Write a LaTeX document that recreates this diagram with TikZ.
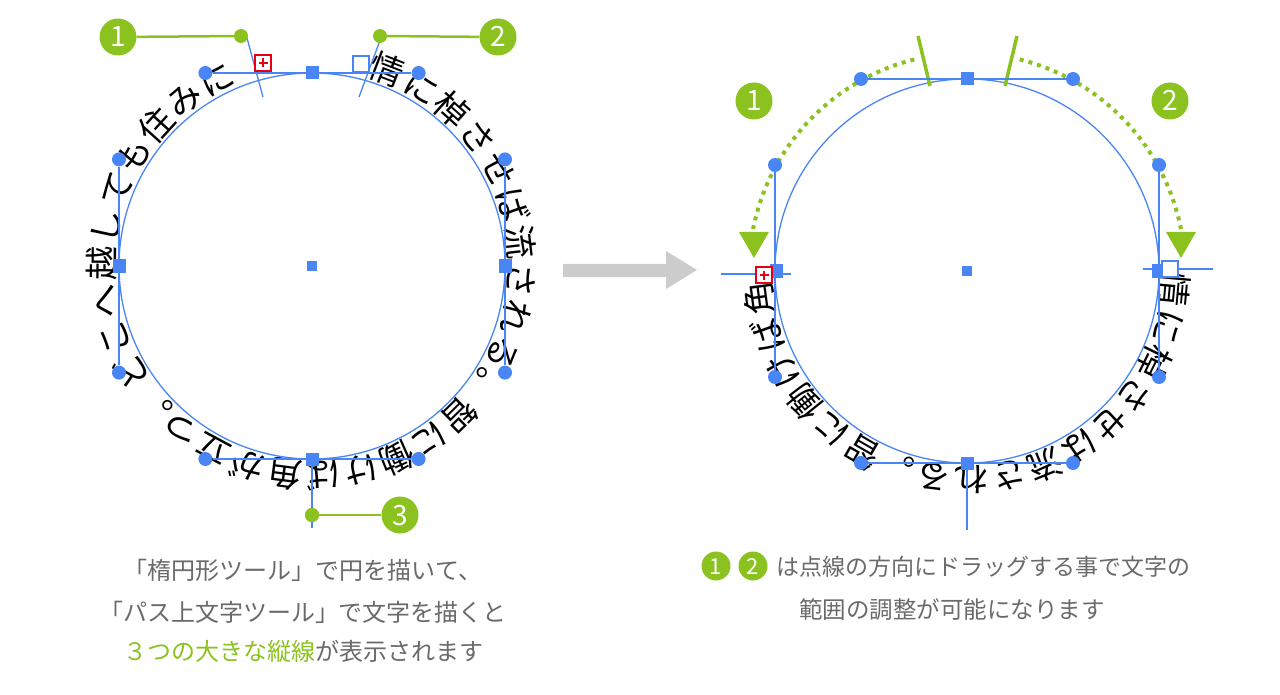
\documentclass[tikz,border=0pt]{standalone}
\usepackage{fontspec}
\setmainfont{Noto Sans CJK JP}
\usetikzlibrary{calc}
\definecolor{grn}{HTML}{8CC220}
\definecolor{blu}{HTML}{4A85F6}
\definecolor{txtgray}{HTML}{6A6A6A}
\definecolor{redm}{HTML}{E60012}
\definecolor{arrgray}{HTML}{CCCCCC}
\begin{document}
\begin{tikzpicture}[x=1pt,y=-1pt,
  circpath/.style={draw=blu,line width=1.3pt},
  handle/.style={draw=blu,line width=1.8pt},
  markline/.style={draw=blu,line width=1.3pt},
  hdot/.style={circle,fill=blu,inner sep=0pt,minimum size=14pt},
  anch/.style={rectangle,fill=blu,inner sep=0pt,minimum size=13pt},
  ctr/.style={rectangle,fill=blu,inner sep=0pt,minimum size=10pt},
  gdot/.style={circle,fill=grn,inner sep=0pt,minimum size=14pt},
  gnum/.style={circle,fill=grn,inner sep=0pt,minimum size=37pt,text=white,
    font=\fontsize{28}{28}\selectfont,text height=20pt,text depth=0pt},
  gnums/.style={circle,fill=grn,inner sep=0pt,minimum size=29pt,text=white,
    font=\fontsize{22}{22}\selectfont,text height=16pt,text depth=0pt},
  gline/.style={draw=grn,line width=2.5pt},
  gtick/.style={draw=grn,line width=3.5pt},
  gdots/.style={draw=grn,line width=4pt,dash pattern=on 4pt off 5pt},
  onchar/.style={inner sep=0pt,anchor=base,font=\fontsize{34}{34}\selectfont},
  redbox/.style={rectangle,draw=redm,fill=white,line width=1.8pt,minimum size=16pt,inner sep=0pt},
  openbox/.style={rectangle,draw=blu,fill=white,line width=1.6pt,minimum size=16pt,inner sep=0pt},
  btxt/.style={inner sep=0pt,anchor=base,text=txtgray,font=\fontsize{24}{24}\selectfont},
]
\useasboundingbox (0,0) rectangle (1280,695);

% ---------- gray arrow ----------
\fill[arrgray] (563,264) -- (666,264) -- (666,251) -- (697,270) -- (666,289) -- (666,277) -- (563,277) -- cycle;

% ================= LEFT CIRCLE =================
\coordinate (Lc) at (312,266);
\foreach \ch [count=\i from 0] in {情,に,棹,さ,せ,ば,流,さ,れ,る,。,智,に,働,け,ば,角,が,立,つ,。,ど,こ,へ,越,し,て,も,住,み,に}{
  \pgfmathsetmacro\a{69-10.4*\i}
  \node[onchar,rotate=\a-90] (L\i) at ({312+197*cos(\a)},{266-197*sin(\a)}) {\ch};
}
\draw[circpath] (Lc) circle[radius=193];

% handles
\node[hdot] (Lt1) at (205.4,73) {};
\node[hdot] (Lt2) at (418.6,73) {};
\node[hdot] (Lb1) at (205.4,459) {};
\node[hdot] (Lb2) at (418.6,459) {};
\node[hdot] (Ll1) at (119,159.4) {};
\node[hdot] (Ll2) at (119,372.6) {};
\node[hdot] (Lr1) at (505,159.4) {};
\node[hdot] (Lr2) at (505,372.6) {};
\draw[handle] (Lt1) -- (Lt2);
\draw[handle] (Lb1) -- (Lb2);
\draw[handle] (Ll1) -- (Ll2);
\draw[handle] (Lr1) -- (Lr2);

% bracket 3
\node[gdot] (g3) at (312,515) {};
\node[gnum] (n3) at (400,515) {3};
\coordinate (b3) at (312,528);
\draw[markline] (312,459) -- (b3);
\draw[gline] (g3) -- (n3);
\node[gdot] at (g3) {};

\node[anch] (LT) at (312,73) {};
\node[anch] (LB) at (312,459) {};
\node[anch] (LL) at (119,266) {};
\node[anch] (LR) at (505,266) {};
\node[ctr] (LC) at (Lc) {};

% bracket 1 (end) and 2 (start)
\coordinate (e1) at (263,97);
\coordinate (e1t) at (247,38);
\coordinate (s2) at (359,97);
\coordinate (s2t) at (382,35);
\draw[markline] (e1) -- (e1t);
\draw[markline] (s2) -- (s2t);
\node[gdot] (g1) at (241,36) {};
\node[gdot] (g2) at (380,36) {};
\node[gnum] (n1) at (118,37) {1};
\node[gnum] (n2) at (498,37) {2};
\draw[gline] (n1) -- (g1);
\draw[gline] (g2) -- (n2);
\node[redbox] (rb1) at (263,63) {};
\draw[redm,line width=1.8pt] ($(rb1)+(-4.5,0)$) -- ($(rb1)+(4.5,0)$) ($(rb1)+(0,-4.5)$) -- ($(rb1)+(0,4.5)$);
\node[openbox] (ob1) at (361,64) {};

% ================= RIGHT CIRCLE =================
\coordinate (Rc) at (967,271);
\foreach \ch [count=\i from 0] in {情,に,棹,さ,せ,ば,流,さ,れ,る,。,智,に,働,け,ば,角}{
  \pgfmathsetmacro\a{-5.2-10.45*\i}
  \node[onchar,rotate=\a-90] (R\i) at ({967+196*cos(\a)},{271-196*sin(\a)}) {\ch};
}
\draw[circpath] (Rc) circle[radius=192];

% dotted drag arcs
\draw[gdots] plot[domain=104:169,samples=60] ({967+218*cos(\x)},{271-218*sin(\x)});
\draw[gdots] plot[domain=76:11,samples=60] ({967+218*cos(\x)},{271-218*sin(\x)});
\fill[grn] (739,232) -- (769,232) -- (754,258) -- cycle;
\fill[grn] (1166,232) -- (1196,232) -- (1181,258) -- cycle;
\draw[gtick] (918,36) -- (930,86);
\draw[gtick] (1017,36) -- (1005,86);

% handles
\node[hdot] (Rt1) at (861,79) {};
\node[hdot] (Rt2) at (1073,79) {};
\node[hdot] (Rb1) at (861,463) {};
\node[hdot] (Rb2) at (1073,463) {};
\node[hdot] (Rl1) at (775,165) {};
\node[hdot] (Rl2) at (775,377) {};
\node[hdot] (Rr1) at (1159,165) {};
\node[hdot] (Rr2) at (1159,377) {};
\draw[handle] (Rt1) -- (Rt2);
\draw[handle] (Rb1) -- (Rb2);
\draw[handle] (Rl1) -- (Rl2);
\draw[handle] (Rr1) -- (Rr2);

% end / start markers
\coordinate (re1) at (721,274);
\coordinate (re2) at (791,274);
\coordinate (rs1) at (1143,269);
\coordinate (rs2) at (1213,269);
\draw[markline] (re1) -- (re2);
\draw[markline] (rs1) -- (rs2);
\coordinate (rbot) at (967,530);
\draw[markline] (967,463) -- (rbot);

\node[anch] (RT) at (967,79) {};
\node[anch] (RB) at (967,463) {};
\node[anch] (RL) at (776,271) {};
\node[anch] (RR) at (1158,271) {};
\node[ctr] (RC) at (Rc) {};
\node[redbox] (rb2) at (764,275) {};
\draw[redm,line width=1.8pt] ($(rb2)+(-4.5,0)$) -- ($(rb2)+(4.5,0)$) ($(rb2)+(0,-4.5)$) -- ($(rb2)+(0,4.5)$);
\node[openbox] (ob2) at (1170,269) {};

\node[gnum] (rn1) at (754,101) {1};
\node[gnum] (rn2) at (1170,101) {2};

% ================= CAPTIONS =================
\node[btxt] (t1) at (303,579) {「楕円形ツール」で円を描いて、};
\node[btxt] (t2) at (303,621) {「パス上文字ツール」で文字を描くと};
\node[btxt] (t3) at (303,660) {\textcolor{grn}{３つの大きな縦線}が表示されます};

\node[gnums] (c1) at (716,566) {1};
\node[gnums] (c2) at (753,566) {2};
\node[btxt,anchor=base west,font=\fontsize{23}{23}\selectfont] (t4) at (776,575) {は点線の方向にドラッグする事で文字の};
\node[btxt,font=\fontsize{23.5}{23.5}\selectfont] (t5) at (952,618) {範囲の調整が可能になります};
\end{tikzpicture}
\end{document}
